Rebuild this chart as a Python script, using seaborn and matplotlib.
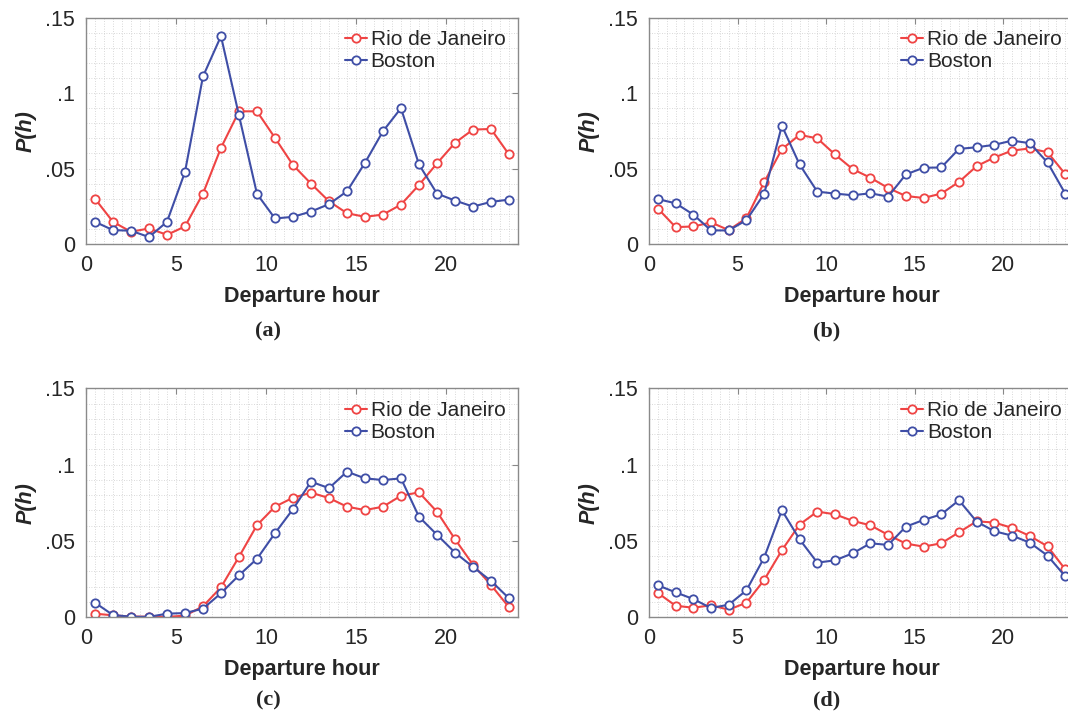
import matplotlib
matplotlib.use("Agg")
import matplotlib.pyplot as plt
from matplotlib.ticker import MultipleLocator, FixedLocator, FixedFormatter
import seaborn as sns
import numpy as np
import pandas as pd

sns.set_style("white")
plt.rcParams['font.family'] = ['Liberation Sans', 'DejaVu Sans']

hours = np.arange(24) + 0.5

# panel (a)
rio_a = [0.030, 0.0147, 0.0081, 0.0103, 0.0061, 0.0116, 0.0334, 0.0637, 0.0879, 0.0879,
         0.0703, 0.0523, 0.040, 0.0283, 0.0204, 0.018, 0.0195, 0.0261, 0.0391, 0.0534,
         0.067, 0.0758, 0.0762, 0.0593]
bos_a = [0.0147, 0.0092, 0.0088, 0.0046, 0.0147, 0.0477, 0.111, 0.1377, 0.0852, 0.0332,
         0.0169, 0.018, 0.0215, 0.0264, 0.0349, 0.0538, 0.0747, 0.090, 0.0527, 0.0334,
         0.0288, 0.0248, 0.0279, 0.0294]
# panel (b)
rio_b = [0.0235, 0.0112, 0.0116, 0.0143, 0.0092, 0.0171, 0.0409, 0.0628, 0.0723, 0.070,
         0.0593, 0.0496, 0.0439, 0.0371, 0.0318, 0.0305, 0.0334, 0.0411, 0.0516, 0.0573,
         0.0619, 0.0633, 0.0608, 0.0463]
bos_b = [0.0297, 0.027, 0.0195, 0.009, 0.009, 0.0158, 0.0332, 0.0784, 0.0527, 0.0347,
         0.0334, 0.0323, 0.0336, 0.0314, 0.0461, 0.0505, 0.0507, 0.063, 0.0641, 0.0657,
         0.0685, 0.0668, 0.054, 0.0334]
# panel (c)
rio_c = [0.0022, 0.0011, 0.0003, 0.0002, 0.0001, 0.0009, 0.007, 0.0195, 0.0395, 0.0603,
         0.0724, 0.0783, 0.0816, 0.0781, 0.0724, 0.0702, 0.0724, 0.0796, 0.0818, 0.0691,
         0.0511, 0.0344, 0.021, 0.0064]
bos_c = [0.0094, 0.0013, 0.0002, 0.0001, 0.0022, 0.0026, 0.0055, 0.0156, 0.0274, 0.0382,
         0.055, 0.0708, 0.0888, 0.0846, 0.0954, 0.091, 0.0899, 0.091, 0.0658, 0.054,
         0.0423, 0.0329, 0.0237, 0.0123]
# panel (d)
rio_d = [0.0158, 0.0074, 0.0061, 0.0077, 0.0048, 0.0094, 0.0243, 0.0438, 0.0607, 0.0692,
         0.0674, 0.0631, 0.0602, 0.0539, 0.0482, 0.0462, 0.0484, 0.0556, 0.0628, 0.062,
         0.0585, 0.0532, 0.0464, 0.0313]
bos_d = [0.0208, 0.0162, 0.0118, 0.0059, 0.0081, 0.0175, 0.039, 0.0701, 0.051, 0.0357,
         0.0372, 0.0418, 0.0484, 0.0473, 0.0593, 0.0637, 0.0674, 0.0766, 0.0626, 0.0563,
         0.0534, 0.0488, 0.0403, 0.0267]

panels = [("(a)", rio_a, bos_a), ("(b)", rio_b, bos_b),
          ("(c)", rio_c, bos_c), ("(d)", rio_d, bos_d)]

red = "#ef4444"
blue = "#3f4ea6"

fig = plt.figure(figsize=(10.68, 7.12), dpi=100)

# left, bottom, width, height in figure fractions
boxes = [(0.0805, 0.6573, 0.4045, 0.318),
         (0.6077, 0.6573, 0.398, 0.318),
         (0.0805, 0.1334, 0.4045, 0.321),
         (0.6077, 0.1334, 0.398, 0.321)]
caption_pos = [(0.251, 0.535), (0.774, 0.535), (0.251, 0.016), (0.774, 0.016)]

for (tag, rio, bos), box, cp in zip(panels, boxes, caption_pos):
    ax = fig.add_axes(box)
    df = pd.DataFrame({"hour": hours, "Rio de Janeiro": rio, "Boston": bos})
    for city, col in [("Rio de Janeiro", red), ("Boston", blue)]:
        sns.lineplot(data=df, x="hour", y=city, ax=ax, color=col, lw=1.5,
                     marker="o", markersize=6, markerfacecolor="white",
                     markeredgecolor=col, markeredgewidth=1.3, label=city)
    ax.set_xlim(0, 24)
    ax.set_ylim(0, 0.15)
    ax.xaxis.set_major_locator(FixedLocator([0, 5, 10, 15, 20]))
    ax.yaxis.set_major_locator(FixedLocator([0, 0.05, 0.1, 0.15]))
    ax.yaxis.set_major_formatter(FixedFormatter(["0", ".05", ".1", ".15"]))
    ax.xaxis.set_minor_locator(MultipleLocator(0.5))
    ax.yaxis.set_minor_locator(MultipleLocator(0.01))
    ax.grid(which="both", ls=(0, (1, 2)), color="#cccccc", lw=0.6)
    ax.set_axisbelow(True)
    ax.tick_params(which="major", direction="in", top=True, right=True,
                   length=4, width=0.8, color="#888888", labelsize=15.5)
    ax.tick_params(axis="x", which="major", pad=8)
    ax.tick_params(axis="y", which="major", pad=8)
    ax.tick_params(which="minor", length=0)
    for s in ax.spines.values():
        s.set_color("#8a8a8a")
        s.set_linewidth(1.0)
    ax.set_xlabel("Departure hour", fontsize=15.5, fontweight="bold", labelpad=7)
    ax.set_ylabel("P(h)", fontsize=15.5, fontweight="bold", fontstyle="italic", labelpad=6)
    ax.legend(loc="upper right", frameon=False, fontsize=15, handlelength=1.05,
              handletextpad=0.2, labelspacing=0.15, borderaxespad=0.3, borderpad=0.3)
    fig.text(cp[0], cp[1], tag, ha="center", va="center", fontsize=16,
             fontweight="bold", family=["Liberation Serif", "DejaVu Serif"])

fig.savefig("out.png", dpi=100)
